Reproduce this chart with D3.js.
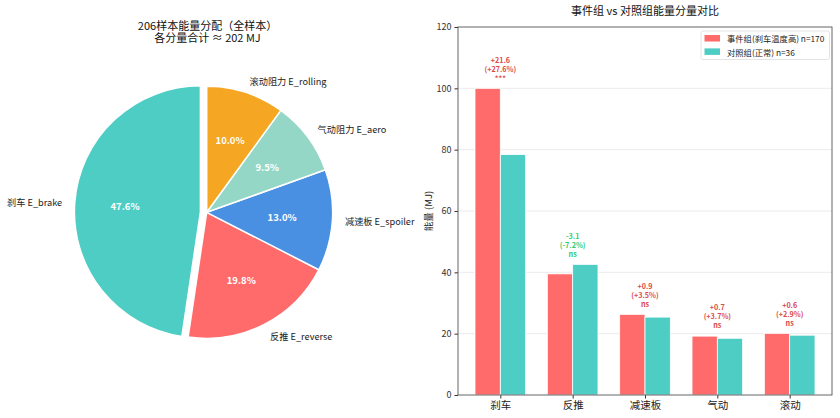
<!DOCTYPE html>
<html><head><meta charset="utf-8">
<script src="https://cdn.jsdelivr.net/npm/d3@7"></script>
<style>
body{margin:0;background:#fff;}
text{font-family:"Noto Sans CJK SC","Noto Sans",sans-serif;}
</style></head>
<body><svg id="c" width="840" height="418"></svg>
<script>
// ---- Pie data ----
const pieLabels = ["刹车 E_brake","反推 E_reverse","减速板 E_spoiler","气动阻力 E_aero","滚动阻力 E_rolling"];
const pieShares = [47.6, 19.8, 13.0, 9.5, 10.0];
const pieColors = ["#4ECDC4","#FF6B6B","#4A90E2","#95D7C6","#F5A623"];
const pieExplode = [0.05, 0, 0, 0, 0];
const pieTitle = ["206样本能量分配（全样本）","各分量合计 ≈ 202 MJ"];

// ---- Bar data ----
const categories = ["刹车","反推","减速板","气动","滚动"];
const eventVals = [100.0, 39.5, 26.3, 19.2, 20.1];
const controlVals = [78.4, 42.6, 25.4, 18.5, 19.5];
const diffLabels = ["+21.6","-3.1","+0.9","+0.7","+0.6"];
const pctLabels = ["(+27.6%)","(-7.2%)","(+3.5%)","(+3.7%)","(+2.9%)"];
const sigLabels = ["***","ns","ns","ns","ns"];
const seriesNames = ["事件组(刹车温度高) n=170","对照组(正常) n=36"];
const seriesColors = ["#FF6B6B","#4ECDC4"];
const yTicks = [0,20,40,60,80,100,120];

const svg = d3.select("#c");

// ===== Pie =====
const cx = 206.7, cy = 212.3, R = 126;
const pg = svg.append("g").attr("transform",`translate(${cx},${cy})`);
const pie = d3.pie().sort(null).startAngle(0).endAngle(-2*Math.PI);
const arcs = pie(pieShares);
const arc = d3.arc().innerRadius(0).outerRadius(R);
arcs.forEach((a,i)=>{
  const mid = (a.startAngle+a.endAngle)/2;
  const off = pieExplode[i]*R;
  const dx = Math.sin(mid)*off, dy = -Math.cos(mid)*off;
  const g = pg.append("g").attr("transform",`translate(${dx},${dy})`);
  g.append("path").attr("d",arc(a)).attr("fill",pieColors[i])
    .attr("stroke","#fff").attr("stroke-width",1.5).attr("stroke-linejoin","round");
  g.append("text").attr("x",Math.sin(mid)*0.6*R).attr("y",-Math.cos(mid)*0.6*R)
    .attr("text-anchor","middle").attr("dominant-baseline","central")
    .attr("fill","#fff").attr("font-weight","bold").attr("font-size",9.5)
    .text(pieShares[i].toFixed(1)+"%");
  const lx = Math.sin(mid)*1.1*R, ly = -Math.cos(mid)*1.1*R;
  g.append("text").attr("x",lx).attr("y",ly)
    .attr("text-anchor", lx>0?"start":"end").attr("dominant-baseline","central")
    .attr("fill","#222").attr("font-size",9.2).text(pieLabels[i]);
});
const pt = svg.append("text").attr("text-anchor","middle")
  .attr("font-size",11).attr("fill","#111");
pieTitle.forEach((t,i)=>{
  pt.append("tspan").attr("x",207.5).attr("y",29.5+i*12.5).text(t);
});

// ===== Bar chart =====
const L = 458, Rr = 832, T = 27, B = 395;
const x = d3.scaleLinear().domain([-0.585, categories.length-1+0.585]).range([L,Rr]);
const y = d3.scaleLinear().domain([0,120]).range([B,T]);
const bw = 0.35;
const bg = svg.append("g");

// grid
bg.append("g").selectAll("line").data(yTicks.slice(1,-1)).join("line")
  .attr("x1",L).attr("x2",Rr).attr("y1",d=>y(d)).attr("y2",d=>y(d))
  .attr("stroke","#e6e6e6").attr("stroke-width",0.8);

// bars
[eventVals, controlVals].forEach((vals,s)=>{
  bg.append("g").selectAll("rect").data(vals).join("rect")
    .attr("x",(d,i)=>x(i + (s===0?-bw:0)))
    .attr("width",x(bw)-x(0))
    .attr("y",d=>y(d)).attr("height",d=>y(0)-y(d))
    .attr("fill",seriesColors[s]).attr("stroke","#fff").attr("stroke-width",0.8);
});

// annotations
categories.forEach((c,i)=>{
  const m = Math.max(eventVals[i],controlVals[i]);
  const col = diffLabels[i].startsWith("-") ? "#2ecc71" : "#dc4a4a";
  const base = y(m+2) - 1.5;
  const lines = [diffLabels[i], pctLabels[i], sigLabels[i]];
  lines.forEach((t,k)=>{
    bg.append("text").attr("x",x(i)).attr("y",base-(2-k)*9)
      .attr("text-anchor","middle").attr("font-size",7.2).attr("font-weight","bold")
      .attr("fill",col).text(t);
  });
});

// axes
const ya = d3.axisLeft(y).tickValues(yTicks).tickSize(3.5).tickPadding(3);
const yg = bg.append("g").attr("transform",`translate(${L},0)`).call(ya);
yg.select(".domain").remove();
yg.selectAll("text").attr("font-size",9).attr("fill","#333");
yg.selectAll("line").attr("stroke","#333");
const xa = d3.axisBottom(x).tickValues(d3.range(categories.length)).tickFormat(i=>categories[i]).tickSize(3.5).tickPadding(3);
const xg = bg.append("g").attr("transform",`translate(0,${B})`).call(xa);
xg.select(".domain").remove();
xg.selectAll("text").attr("font-size",10.5).attr("fill","#222");
xg.selectAll("line").attr("stroke","#333");

// spines
bg.append("rect").attr("x",L).attr("y",T).attr("width",Rr-L).attr("height",B-T)
  .attr("fill","none").attr("stroke","#555").attr("stroke-width",0.9);

// labels
svg.append("text").attr("x",(L+Rr)/2).attr("y",15).attr("text-anchor","middle")
  .attr("font-size",11).attr("fill","#111").text("事件组 vs 对照组能量分量对比");
svg.append("text").attr("transform",`translate(432,${(T+B)/2}) rotate(-90)`)
  .attr("text-anchor","middle").attr("font-size",9.5).attr("fill","#222").text("能量 (MJ)");

// legend
const lg = svg.append("g");
lg.append("rect").attr("x",701).attr("y",31).attr("width",128.5).attr("height",28.5).attr("rx",2)
  .attr("fill","#fff").attr("fill-opacity",0.8).attr("stroke","#ddd").attr("stroke-width",0.8);
seriesNames.forEach((n,i)=>{
  lg.append("rect").attr("x",704.5).attr("y",35+i*13.4).attr("width",15.5).attr("height",6.5)
    .attr("fill",seriesColors[i]);
  lg.append("text").attr("x",727).attr("y",38.3+i*13.4).attr("dominant-baseline","central")
    .attr("font-size",8.3).attr("fill","#222").text(n);
});
</script>
</body></html>
